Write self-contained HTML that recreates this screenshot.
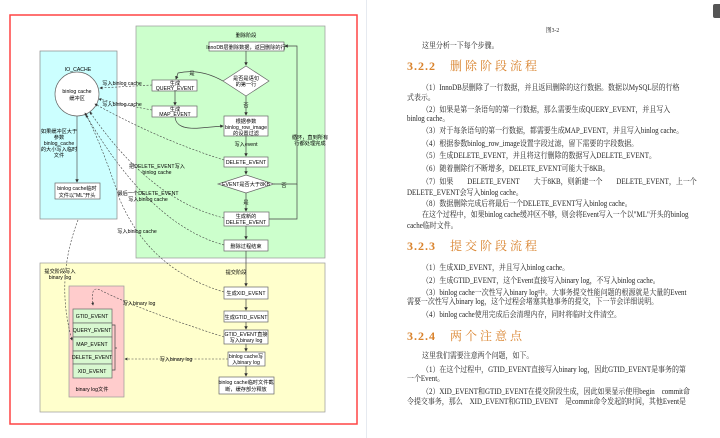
<!DOCTYPE html>
<html><head><meta charset="utf-8"><style>
body{margin:0;width:720px;height:438px;overflow:hidden;background:#fff;position:relative;font-family:"Liberation Serif","Noto Serif CJK SC",serif;}
.t{position:absolute;font-size:8px;color:#222;white-space:nowrap;line-height:10px;transform:scaleX(0.87);transform-origin:0 0}
.h{position:absolute;font-size:12px;color:#d9822b;font-weight:bold;letter-spacing:1px;white-space:nowrap}
.h span{font-weight:normal;margin-left:14px;letter-spacing:3px}
svg text{font-family:"Liberation Sans","Noto Sans CJK SC",sans-serif;}
</style></head><body>
<svg width="370" height="438" style="position:absolute;left:0;top:0" font-size="5.2">
<defs><marker id="a" markerWidth="5" markerHeight="5" refX="4" refY="2.5" orient="auto"><path d="M0,0L5,2.5L0,5z" fill="#333"/></marker></defs>
<rect x="10" y="15" width="347" height="409" fill="#fff" stroke="#f44" stroke-width="1.5"/>
<line x1="366.5" y1="0" x2="366.5" y2="438" stroke="#e6eaf0"/>
<rect x="40" y="51" width="77" height="168" fill="#ccffff" stroke="#888" stroke-width=".7"/>
<rect x="136" y="26" width="189" height="232" fill="#ccffcc" stroke="#999" stroke-width=".7"/>
<rect x="40" y="263" width="285" height="149" fill="#ffffcc" stroke="#999" stroke-width=".7"/>
<rect x="69" y="286" width="55" height="111" fill="#ffcccc" stroke="#999" stroke-width=".7"/>
<text x="78" y="71" text-anchor="middle">IO_CACHE</text>
<text x="246" y="37" text-anchor="middle">删除阶段</text>
<text x="236" y="274" text-anchor="middle">提交阶段</text>
<circle cx="77" cy="94" r="22" fill="#fff" stroke="#666" stroke-width=".7"/>
<text x="77" y="93" text-anchor="middle">binlog cache</text><text x="77" y="100" text-anchor="middle">缓冲区</text>
<line x1="77" y1="116" x2="77" y2="182" stroke="#555" stroke-width=".7" marker-end="url(#a)"/>
<g text-anchor="middle"><text x="59" y="133">如果缓冲区大于</text><text x="59" y="139">参数</text><text x="59" y="145">binlog_cache</text><text x="59" y="151">的大小写入临时</text><text x="59" y="157">文件</text></g>
<rect x="55" y="183" width="45" height="16" fill="#fff" stroke="#666" stroke-width=".7"/>
<text x="77" y="190" text-anchor="middle">binlog cache临时</text><text x="77" y="197" text-anchor="middle">文件以"ML"开头</text>
<g fill="#fff" stroke="#666" stroke-width=".7">
<rect x="209" y="42" width="75" height="9"/>
<polygon points="246,66 269,81 246,96 223,81"/>
<rect x="152" y="80" width="45" height="11"/>
<rect x="152" y="106" width="45" height="11"/>
<rect x="224" y="116" width="44" height="20"/>
<rect x="224" y="157" width="44" height="10"/>
<polygon points="246,175 274,184 246,193 218,184"/>
<rect x="224" y="212" width="45" height="14"/>
<rect x="224" y="240" width="44" height="11"/>
<rect x="224" y="287" width="44" height="12"/>
<rect x="224" y="311" width="44" height="11"/>
<rect x="224" y="330" width="44" height="14"/>
<rect x="228" y="352" width="37" height="14"/>
<rect x="219" y="377" width="55" height="17"/>
</g>
<g fill="#d8f8d0" stroke="#666" stroke-width=".7">
<rect x="73" y="309" width="39" height="14"/><rect x="73" y="323" width="39" height="14"/><rect x="73" y="337" width="39" height="14"/><rect x="73" y="351" width="39" height="13"/><rect x="73" y="364" width="39" height="14"/>
</g>
<g text-anchor="middle">
<text x="246" y="49">InnoDB层删除数据，返回删除的行</text>
<text x="246" y="80">是否是语句</text><text x="246" y="86">的第一行</text>
<text x="175" y="85">生成</text><text x="175" y="90">QUERY_EVENT</text>
<text x="175" y="111">生成</text><text x="175" y="116">MAP_EVENT</text>
<text x="246" y="123">根据参数</text><text x="246" y="129">binlog_row_image</text><text x="246" y="135">的设置过滤</text>
<text x="246" y="164">DELETE_EVENT</text>
<text x="246" y="186">EVENT是否大于8KB</text>
<text x="246" y="218">生成新的</text><text x="246" y="224">DELETE_EVENT</text>
<text x="246" y="248">删除过程结束</text>
<text x="246" y="295">生成XID_EVENT</text>
<text x="246" y="319">生成GTID_EVENT</text>
<text x="246" y="336">GTID_EVENT直接</text><text x="246" y="342">写入binary log</text>
<text x="246" y="358">binlog cache写</text><text x="246" y="364">入binary log</text>
<text x="246" y="384">binlog cache临时文件截</text><text x="246" y="391">断，缓存部分释放</text>
<text x="92" y="318">GTID_EVENT</text><text x="92" y="332">QUERY_EVENT</text><text x="92" y="346">MAP_EVENT</text><text x="92" y="359">DELETE_EVENT</text><text x="92" y="373">XID_EVENT</text>
<text x="92" y="391">binary log文件</text>
<text x="246" y="146">写入event</text>
<text x="192" y="75">是</text><text x="246" y="107">否</text><text x="246" y="204">是</text><text x="284" y="187">否</text>
<text x="310" y="139">循环，直到所有</text><text x="310" y="145">行都处理完成</text>
<text x="122" y="85">写入binlog cache</text><text x="122" y="106">写入binlog cache</text>
<text x="157" y="168">把DELETE_EVENT写入</text><text x="157" y="174">binlog cache</text>
<text x="148" y="195">最后一个DELETE_EVENT</text><text x="148" y="201">写入binlog cache</text>
<text x="137" y="233">写入binlog cache</text>
<text x="60" y="273">提交阶段写入</text><text x="60" y="279">binary log</text>
<text x="139" y="305">写入binary log</text>
<text x="176" y="361">写入binary log</text>
</g>
<g stroke="#444" stroke-width=".7" fill="none">
<line x1="246" y1="51" x2="246" y2="65" marker-end="url(#a)"/>
<line x1="246" y1="96" x2="246" y2="115" marker-end="url(#a)"/>
<path d="M223,81 Q200,68 178,73 L176,79" marker-end="url(#a)"/>
<line x1="175" y1="91" x2="175" y2="105" marker-end="url(#a)"/>
<path d="M175,117 Q176,130 200,128 L223,126" marker-end="url(#a)"/>
<line x1="246" y1="136" x2="246" y2="156" marker-end="url(#a)"/>
<line x1="246" y1="167" x2="246" y2="174" marker-end="url(#a)"/>
<line x1="246" y1="193" x2="246" y2="211" marker-end="url(#a)"/>
<path d="M274,184 L297,184 L297,46 L285,46" marker-end="url(#a)"/>
<path d="M269,219 L297,219 L297,184"/>
<line x1="246" y1="226" x2="246" y2="239" marker-end="url(#a)"/>
<line x1="246" y1="251" x2="246" y2="286" marker-end="url(#a)"/>
<line x1="246" y1="299" x2="246" y2="310" marker-end="url(#a)"/>
<line x1="246" y1="322" x2="246" y2="329" marker-end="url(#a)"/>
<line x1="246" y1="344" x2="246" y2="351" marker-end="url(#a)"/>
<line x1="246" y1="366" x2="246" y2="376" marker-end="url(#a)"/>
<path d="M112,325 L115,325 L115,370 L112,370 M115,348 L117,348"/>
</g>
<g stroke="#444" stroke-width=".6" fill="none" stroke-dasharray="2,1.5">
<path d="M152,85 L100,88" marker-end="url(#a)"/>
<path d="M152,110 Q130,106 99,99" marker-end="url(#a)"/>
<path d="M224,160 Q160,140 95,104" marker-end="url(#a)"/>
<path d="M224,218 Q150,200 90,112" marker-end="url(#a)"/>
<path d="M224,245 Q150,225 86,115" marker-end="url(#a)"/>
<path d="M224,292 Q150,270 120,200 Q100,140 85,113" marker-end="url(#a)"/>
<path d="M78,220 Q55,280 72,340" marker-end="url(#a)"/>
<path d="M224,337 Q140,310 100,290 Q90,285 93,305" marker-end="url(#a)"/>
<path d="M228,359 L125,359" marker-end="url(#a)"/>
</g>
</svg>
<div style="position:absolute;left:713px;top:4px;width:7px;height:14px;background:#555;border-radius:2px 0 0 2px"></div>
<div class="t" style="left:546px;top:26px;font-size:6.5px">图3-2</div>
<div class="t" style="left:422px;top:41px">这里分析一下每个步骤。</div>
<div class="h" style="left:407px;top:57px">3.2.2<span>删除阶段流程</span></div>
<div class="t" style="left:422px;top:83px">（1）InnoDB层删除了一行数据，并且返回删除的这行数据。数据以MySQL层的行格</div>
<div class="t" style="left:407px;top:93px">式表示。</div>
<div class="t" style="left:422px;top:105px">（2）如果是第一条语句的第一行数据，那么需要生成QUERY_EVENT，并且写入</div>
<div class="t" style="left:407px;top:114px">binlog cache。</div>
<div class="t" style="left:422px;top:126px">（3）对于每条语句的第一行数据，都需要生成MAP_EVENT，并且写入binlog cache。</div>
<div class="t" style="left:422px;top:139px">（4）根据参数binlog_row_image设置字段过滤，留下需要的字段数据。</div>
<div class="t" style="left:422px;top:151px">（5）生成DELETE_EVENT，并且将这行删除的数据写入DELETE_EVENT。</div>
<div class="t" style="left:422px;top:164px">（6）随着删除行不断增多，DELETE_EVENT可能大于8KB。</div>
<div class="t" style="left:422px;top:177px">（7）如果　　DELETE_EVENT　　大于8KB，则新建一个　　DELETE_EVENT，上一个</div>
<div class="t" style="left:407px;top:188px">DELETE_EVENT会写入binlog cache。</div>
<div class="t" style="left:422px;top:199px">（8）数据删除完成后将最后一个DELETE_EVENT写入binlog cache。</div>
<div class="t" style="left:422px;top:210px">在这个过程中，如果binlog cache缓冲区不够，则会将Event写入一个以"ML"开头的binlog</div>
<div class="t" style="left:407px;top:221px">cache临时文件。</div>
<div class="h" style="left:407px;top:237px">3.2.3<span>提交阶段流程</span></div>
<div class="t" style="left:422px;top:263px">（1）生成XID_EVENT，并且写入binlog cache。</div>
<div class="t" style="left:422px;top:276px">（2）生成GTID_EVENT，这个Event直接写入binary log，不写入binlog cache。</div>
<div class="t" style="left:422px;top:288px">（3）binlog cache一次性写入binary log中。大事务提交性能问题的根源就是大量的Event</div>
<div class="t" style="left:407px;top:297px">需要一次性写入binary log，这个过程会堵塞其他事务的提交，下一节会详细说明。</div>
<div class="t" style="left:422px;top:310px">（4）binlog cache使用完成后会清理内存，同时将临时文件清空。</div>
<div class="h" style="left:407px;top:327px">3.2.4<span>两个注意点</span></div>
<div class="t" style="left:422px;top:351px">这里我们需要注意两个问题，如下。</div>
<div class="t" style="left:422px;top:365px">（1）在这个过程中，GTID_EVENT直接写入binary log，因此GTID_EVENT是事务的第</div>
<div class="t" style="left:407px;top:374px">一个Event。</div>
<div class="t" style="left:422px;top:387px">（2）XID_EVENT和GTID_EVENT在提交阶段生成，因此如果显示使用begin　commit命</div>
<div class="t" style="left:407px;top:397px">令提交事务，那么　XID_EVENT和GTID_EVENT　是commit命令发起的时间，其他Event是</div>
</body></html>
